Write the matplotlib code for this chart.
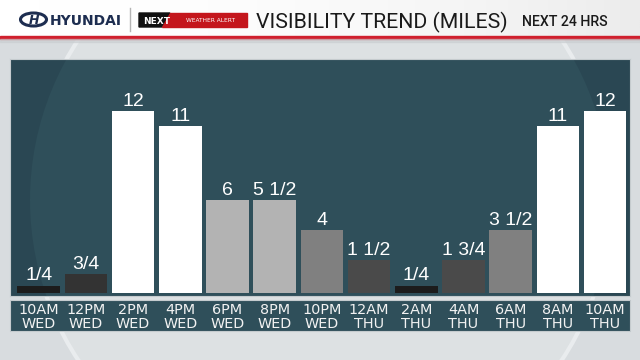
import numpy as np
import matplotlib.pyplot as plt
from matplotlib.patches import Rectangle, Polygon, Ellipse, Circle
import matplotlib.transforms as mtransforms

# Datos
times = ["10AM", "12PM", "2PM", "4PM", "6PM", "8PM", "10PM",
         "12AM", "2AM", "4AM", "6AM", "8AM", "10AM"]
days = ["WED", "WED", "WED", "WED", "WED", "WED", "WED",
        "THU", "THU", "THU", "THU", "THU", "THU"]
value_labels = ["1/4", "3/4", "12", "11", "6", "5 1/2", "4",
                "1 1/2", "1/4", "1 3/4", "3 1/2", "11", "12"]
# altura dibujada de cada barra (escala del grafico)
bar_heights = [0.49, 1.27, 12.13, 11.13, 6.2, 6.2, 4.2,
               2.2, 0.49, 2.2, 4.2, 11.13, 12.13]
bar_colors = ["#1c1c1c", "#333333", "#ffffff", "#ffffff", "#b3b3b3", "#b3b3b3",
              "#808080", "#4a4a4a", "#1c1c1c", "#4a4a4a", "#808080",
              "#ffffff", "#ffffff"]

PANEL = "#2f4f5a"
NAVY = "#1d2d50"

fig = plt.figure(figsize=(6.4, 3.6), dpi=100)

# Fondo en pixeles
bg = fig.add_axes([0, 0, 1, 1])
bg.set_xlim(0, 640)
bg.set_ylim(360, 0)
bg.axis("off")
bg.add_patch(Rectangle((0, 0), 640, 360, color="#d8dcdf", zorder=0))
bg.add_patch(Circle((320, 200), 290, facecolor="#dde1e3", edgecolor="#e9ecee",
                    lw=3, zorder=0.5))

# Cabecera blanca con degradado
grad = np.linspace(0, 1, 256).reshape(1, -1) ** 2
bg.imshow(grad, extent=(0, 640, 36, 0), cmap=plt.matplotlib.colors.LinearSegmentedColormap.from_list(
    "hdr", ["#ffffff", "#ececec"]), aspect="auto", zorder=1)
bg.add_patch(Rectangle((0, 36), 640, 2.5, color="#d0202e", zorder=2))
bg.add_patch(Rectangle((0, 38.5), 640, 3, color="#c9cdd0", alpha=0.6, zorder=2))
bg.set_xlim(0, 640)
bg.set_ylim(360, 0)

# Logo
bg.add_patch(Ellipse((33.5, 19.5), 26, 13, facecolor="none", edgecolor=NAVY, lw=2.2, zorder=3))
bg.text(33.5, 20, "H", color=NAVY, fontsize=9, fontweight="bold", style="italic",
        ha="center", va="center", zorder=3)
bg.text(50, 25, "HYUNDAI", color=NAVY, fontsize=10, fontweight="bold",
        family="DejaVu Sans", ha="left", va="baseline", zorder=3)
bg.plot([130, 130], [8, 31], color="#b5b5b5", lw=1, zorder=3)

# Insignia
bg.add_patch(Polygon([(139, 13), (170, 13), (162, 27), (139, 27)], color="#111111", zorder=3))
bg.add_patch(Polygon([(170, 13), (247, 13), (247, 27), (162, 27)], color="#c4161c", zorder=3))
bg.text(143, 23.5, "NEXT", color="white", fontsize=6.5, fontweight="bold",
        ha="left", va="baseline", zorder=4)
bg.text(211, 22.5, "WEATHER ALERT", color="white", fontsize=4.2,
        ha="center", va="baseline", zorder=4)

# Titulo
bg.text(256, 28.5, "VISIBILITY TREND (MILES)", color="#1a1a1a", fontsize=15.3,
        family="Roboto", ha="left", va="baseline", zorder=3)
bg.text(522, 25.5, "NEXT 24 HRS", color="#1a1a1a", fontsize=10.2,
        family="Roboto", fontweight="medium", ha="left", va="baseline", zorder=3)

# Panel de barras
ax = fig.add_axes([9.5 / 640, (360 - 296) / 360, 620.5 / 640, (296 - 59) / 360])
ax.set_facecolor("#2a4753")
ax.add_patch(Circle((320, 200), 290, transform=bg.transData, facecolor=PANEL,
                    edgecolor="none", zorder=0))
x = np.arange(len(times))
ax.bar(x, bar_heights, width=0.905, color=bar_colors, zorder=2)
ax.set_xlim(-0.619, -0.619 + 620.5 / 47.2)
ax.set_ylim(-0.18, -0.18 + 237 / 15)
for xi, h, lab in zip(x, bar_heights, value_labels):
    ax.annotate(lab, (xi, h), xytext=(0, 4), textcoords="offset points",
                ha="center", va="baseline", color="white", fontsize=14,
                family="Liberation Sans", zorder=3)
ax.set_xticks([])
ax.set_yticks([])
for s in ax.spines.values():
    s.set_color("#c5cbce")
    s.set_linewidth(0.8)

# Franja de etiquetas
bg.add_patch(Rectangle((9.5, 300), 620.5, 31, facecolor=PANEL, edgecolor="#c5cbce",
                       lw=0.8, zorder=3))
tr = mtransforms.blended_transform_factory(ax.transData, bg.transData)
for xi, t, d in zip(x, times, days):
    bg.text(xi, 309.5, t, transform=tr, ha="center", va="center", color="#f2f2f2",
            fontsize=10.4, zorder=4)
    bg.text(xi, 323.8, d, transform=tr, ha="center", va="center", color="#f2f2f2",
            fontsize=10.4, zorder=4)

plt.savefig("out.png", dpi=100)
